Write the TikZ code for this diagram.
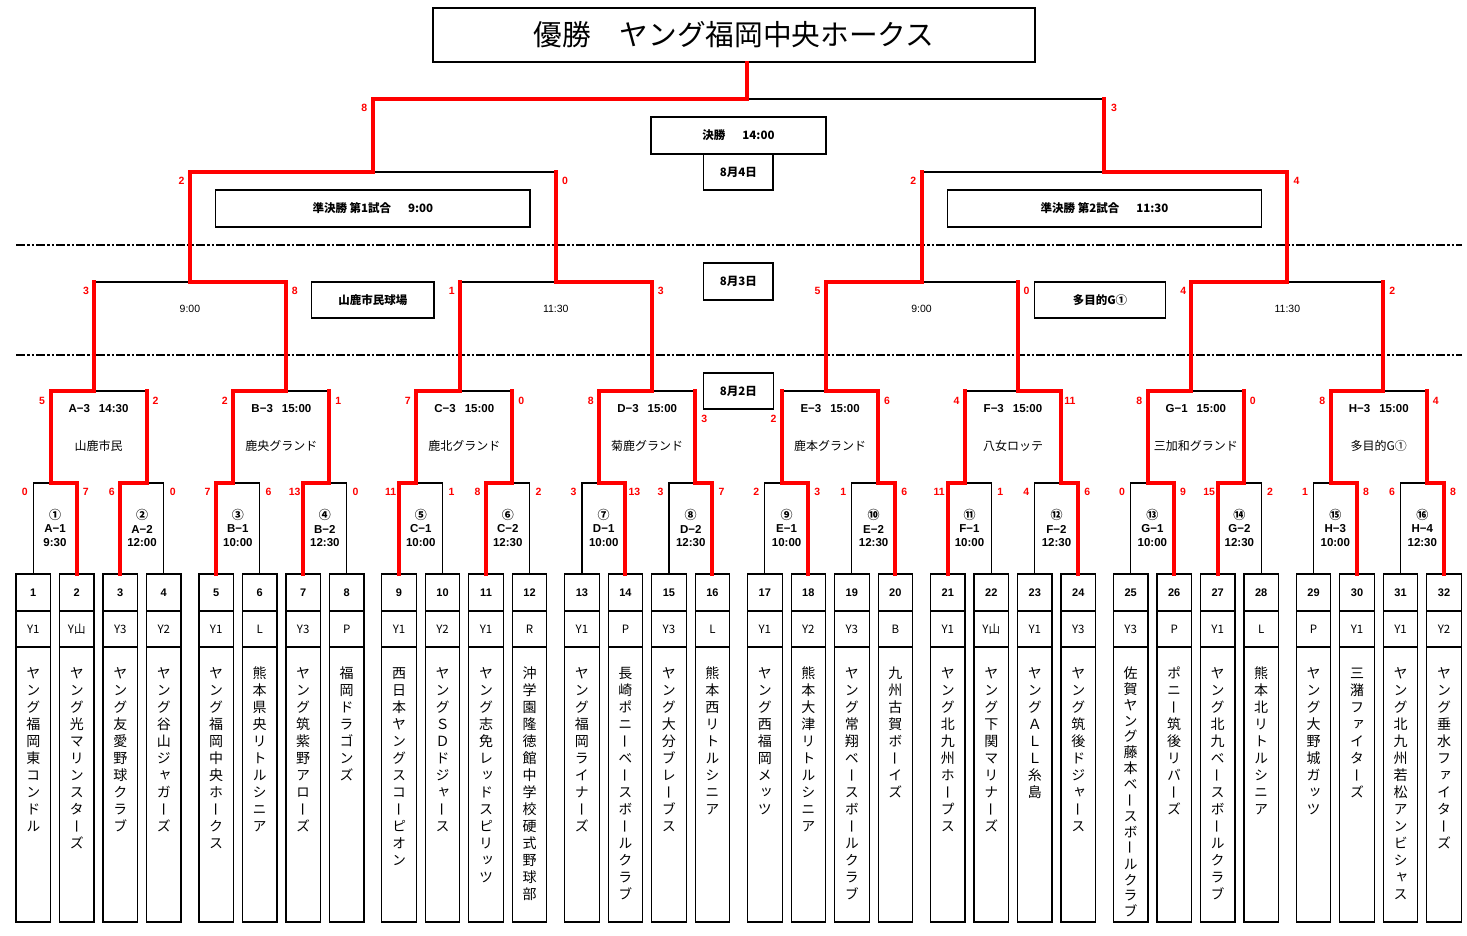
\documentclass[tikz,border=0pt]{standalone}
\usepackage{fontspec}
\setmainfont{Noto Sans CJK JP}
\newfontfamily\jpv[RawFeature=+vert]{Noto Sans CJK JP}
\newfontfamily\lat{Liberation Sans}
\definecolor{rd}{RGB}{255,0,0}
\newcount\vcnt
\def\vp{17}
\def\vx{0}
\def\vchar#1{\ifx ー#1\node[vchr] at (\vx,{673+\vp*\the\vcnt}) {#1};\else\node[vch] at (\vx,{673+\vp*\the\vcnt}) {#1};\fi}
\def\vnameA#1{\ifx\relax#1\else\vchar{#1}\global\advance\vcnt by 1\relax\expandafter\vnameA\fi}
\tikzset{
 blk/.style={line width=1.2pt,draw=black},
 redl/.style={line width=4pt,draw=rd,line cap=rect},
 cell/.style={draw=black,line width=1.2pt},
 score/.style={text=rd,font=\lat\bfseries\fontsize{10.5}{12}\selectfont,inner sep=0pt},
 mlab/.style={font=\lat\bfseries\fontsize{11.5}{13}\selectfont,inner sep=0pt},
 cnum/.style={font=\bfseries\fontsize{12}{13}\selectfont,inner sep=0pt},
 venue/.style={font=\fontsize{12}{13}\selectfont,inner sep=0pt},
 tmlab/.style={font=\lat\fontsize{10.5}{12}\selectfont,inner sep=0pt},
 num/.style={font=\lat\bfseries\fontsize{11}{12}\selectfont,inner sep=0pt},
 code/.style={font=\fontsize{11.5}{12}\selectfont,inner sep=0pt},
 vch/.style={font=\jpv\fontsize{14}{14}\selectfont,inner sep=0pt,anchor=center,text height=12.32pt,text depth=1.68pt},
 vchr/.style={font=\fontsize{14}{14}\selectfont,inner sep=0pt,anchor=center,text height=12.32pt,text depth=1.68pt,rotate=90},
 lbl/.style={draw=black,line width=1.2pt,inner sep=0pt,font=\bfseries\fontsize{11.5}{13}\selectfont},
 dd/.style={line width=1.5pt,dash pattern=on 9pt off 2pt on 2.5pt off 2pt on 2.5pt off 2pt},
}
\begin{document}
\begin{tikzpicture}[x=1pt,y=-1pt]
\useasboundingbox (0,0) rectangle (1467,935);
\fill[white] (0,0) rectangle (1467,935);

% day separators
\draw[dd] (16,245) -- (1462,245);
\draw[dd] (16,355) -- (1462,355);

% label boxes
\node[draw=black,line width=1.2pt,minimum width=602pt,minimum height=54pt,inner sep=0pt,font=\fontsize{28.7}{30}\selectfont] (title) at (734,35) {優勝　ヤング福岡中央ホークス};
\node[lbl,minimum width=175pt,minimum height=37pt] (kessho) at (738.5,135.5) {決勝\hspace{17pt}14:00};
\node[lbl,minimum width=69.4pt,minimum height=36pt] (d4) at (738.3,172) {8月4日};
\node[lbl,minimum width=314.3pt,minimum height=37pt] (semi1) at (372.85,208.5) {準決勝 第1試合\hspace{17pt}9:00};
\node[lbl,minimum width=314.3pt,minimum height=37pt] (semi2) at (1104.5,208.5) {準決勝 第2試合\hspace{17pt}11:30};
\node[lbl,minimum width=69.4pt,minimum height=37pt] (d3) at (738.3,281.5) {8月3日};
\node[lbl,minimum width=122.5pt,minimum height=36pt] (ven1) at (372.8,300) {山鹿市民球場};
\node[lbl,minimum width=130.7pt,minimum height=36pt] (ven2) at (1100,300) {多目的G①};
\node[lbl,minimum width=70pt,minimum height=36pt] (d2) at (738.3,391) {8月2日};

% teams
\foreach \i/\cd/\pit/\nm in {
1/Y1/17/ヤング福岡東コンドル,
2/Y山/17/ヤング光マリンスターズ,
3/Y3/17/ヤング友愛野球クラブ,
4/Y2/17/ヤング谷山ジャガーズ,
5/Y1/17/ヤング福岡中央ホークス,
6/L/17/熊本県央リトルシニア,
7/Y3/17/ヤング筑紫野アローズ,
8/P/17/福岡ドラゴンズ,
9/Y1/17/西日本ヤングスコーピオン,
10/Y2/17/ヤングＳＤドジャース,
11/Y1/17/ヤング志免レッドスピリッツ,
12/R/17/沖学園隆徳館中学校硬式野球部,
13/Y1/17/ヤング福岡ライナーズ,
14/P/17/長崎ポニーベースボールクラブ,
15/Y3/17/ヤング大分ブレーブス,
16/L/17/熊本西リトルシニア,
17/Y1/17/ヤング西福岡メッツ,
18/Y2/17/熊本大津リトルシニア,
19/Y3/17/ヤング常翔ベースボールクラブ,
20/B/17/九州古賀ボーイズ,
21/Y1/17/ヤング北九州ホープス,
22/Y山/17/ヤング下関マリナーズ,
23/Y1/17/ヤングＡＬＬ糸島,
24/Y3/17/ヤング筑後ドジャース,
25/Y3/15.9/佐賀ヤング藤本ベースボールクラブ,
26/P/17/ポニー筑後リバーズ,
27/Y1/17/ヤング北九ベースボールクラブ,
28/L/17/熊本北リトルシニア,
29/P/17/ヤング大野城ガッツ,
30/Y1/17/三潴ファイターズ,
31/Y1/17/ヤング北九州若松アンビシャス,
32/Y2/17/ヤング垂水ファイターズ}{
 \pgfmathsetmacro\g{floor((\i-1)/4)}
 \pgfmathsetmacro\k{mod(\i-1,4)}
 \pgfmathsetmacro\lx{16+\g*182.9+\k*43.5}
 \pgfmathsetmacro\xc{\lx+17.25}
 \draw[cell] (\lx,574) rectangle (\lx+34.5,922);
 \draw[cell] (\lx,611) -- (\lx+34.5,611);
 \draw[cell] (\lx,647) -- (\lx+34.5,647);
 \node[num] (num\i) at (\xc,592.5) {\i};
 \node[code] (code\i) at (\xc,629) {\cd};
 \global\vcnt=0
 \edef\vx{\xc}\edef\vp{\pit}
 \expandafter\vnameA\nm\relax
}

% round 1
\foreach \m/\sa/\sb/\w/\cn/\lab/\tm in {
1/0/7/1/①/A−1/9:30, 2/6/0/0/②/A−2/12:00, 3/7/6/0/③/B−1/10:00, 4/13/0/0/④/B−2/12:30,
5/11/1/0/⑤/C−1/10:00, 6/8/2/0/⑥/C−2/12:30, 7/3/13/1/⑦/D−1/10:00, 8/3/7/1/⑧/D−2/12:30,
9/2/3/1/⑨/E−1/10:00, 10/1/6/1/⑩/E−2/12:30, 11/11/1/0/⑪/F−1/10:00, 12/4/6/1/⑫/F−2/12:30,
13/0/9/1/⑬/G−1/10:00, 14/15/2/0/⑭/G−2/12:30, 15/1/8/1/⑮/H−3/10:00, 16/6/8/1/⑯/H−4/12:30}{
 \pgfmathsetmacro\g{floor((\m-1)/2)}
 \pgfmathsetmacro\p{mod(\m-1,2)}
 \pgfmathsetmacro\xl{33.25+\g*182.9+\p*87}
 \pgfmathsetmacro\xr{\xl+43.5}
 \pgfmathsetmacro\xm{\xl+21.75}
 \pgfmathsetmacro\xn{\xm+(2*\p-1)*4.5}
 \pgfmathsetmacro\xw{\w<0.5 ? \xl : \xr}
 \draw[blk] (\xl,574) -- (\xl,483) -- (\xr,483) -- (\xr,574);
 \draw[redl] (\xw,574) -- (\xw,483) -- (\xn,483);
 \node[score] (sa\m) at (\xl-8.5,492) {\sa};
 \node[score] (sb\m) at (\xr+9,492) {\sb};
 \node[cnum] (cn\m) at (\xm,515) {\cn};
 \node[mlab] (lab\m) at (\xm,529) {\lab};
 \node[mlab] (tm\m) at (\xm,543) {\tm};
}

% round 2
\foreach \g/\sa/\sb/\w/\lab/\tm/\ven/\da/\db in {
0/5/2/0/A−3/14:30/山鹿市民/10/10, 1/2/1/0/B−3/15:00/鹿央グランド/10/10,
2/7/0/0/C−3/15:00/鹿北グランド/10/10, 3/8/3/0/D−3/15:00/菊鹿グランド/10/28,
4/2/6/1/E−3/15:00/鹿本グランド/28/10, 5/4/11/1/F−3/15:00/八女ロッテ/10/10,
6/8/0/0/G−1/15:00/三加和グランド/10/10, 7/8/4/0/H−3/15:00/多目的G①/10/10}{
 \pgfmathsetmacro\xl{50.5+\g*182.9}
 \pgfmathsetmacro\xr{146.5+\g*182.9}
 \pgfmathsetmacro\xm{98.5+\g*182.9}
 \pgfmathsetmacro\p{mod(\g,2)}
 \pgfmathsetmacro\xn{\xm+(2*\p-1)*4.5}
 \pgfmathsetmacro\xw{\w<0.5 ? \xl : \xr}
 \draw[blk] (\xl,483) -- (\xl,391) -- (\xr,391) -- (\xr,483);
 \draw[redl] (\xl,483) -- (\xl,391);
 \draw[redl] (\xr,483) -- (\xr,391);
 \draw[redl] (\xw,391) -- (\xn,391);
 \node[score] (ra\g) at (\xl-8.5,391+\da) {\sa};
 \node[score] (rb\g) at (\xr+9,391+\db) {\sb};
 \node[mlab] (rl\g) at (\xm,409) {\lab\hspace{9pt}\tm};
 \node[venue] (rv\g) at (\xm,446) {\ven};
}

% round 3
\foreach \h/\sa/\sb/\w/\tm in {0/3/8/1/9:00, 1/1/3/1/11:30, 2/5/0/0/9:00, 3/4/2/0/11:30}{
 \pgfmathsetmacro\xl{94+\h*365.8}
 \pgfmathsetmacro\xr{285.9+\h*365.8}
 \pgfmathsetmacro\xm{189.95+\h*365.8}
 \pgfmathsetmacro\xw{\w<0.5 ? \xl : \xr}
 \draw[blk] (\xl,391) -- (\xl,282) -- (\xr,282) -- (\xr,391);
 \draw[redl] (\xl,391) -- (\xl,282);
 \draw[redl] (\xr,391) -- (\xr,282);
 \draw[redl] (\xw,282) -- (\xm,282);
 \node[score] (qa\h) at (\xl-8,291) {\sa};
 \node[score] (qb\h) at (\xr+9,291) {\sb};
 \node[tmlab] (qt\h) at (\xm,309) {\tm};
}

% semifinals
\foreach \s/\sa/\sb/\w in {0/2/0/0, 1/2/4/1}{
 \pgfmathsetmacro\xl{189.95+\s*731.6}
 \pgfmathsetmacro\xr{555.75+\s*731.6}
 \pgfmathsetmacro\xm{372.85+\s*731.6}
 \pgfmathsetmacro\xw{\w<0.5 ? \xl : \xr}
 \draw[blk] (\xl,282) -- (\xl,172) -- (\xr,172) -- (\xr,282);
 \draw[redl] (\xl,282) -- (\xl,172);
 \draw[redl] (\xr,282) -- (\xr,172);
 \draw[redl] (\xw,172) -- (\xm,172);
 \node[score] (pa\s) at (\xl-8.3,181) {\sa};
 \node[score] (pb\s) at (\xr+9.3,181) {\sb};
}

% final
\coordinate (fl) at (372.85,99);
\coordinate (fr) at (1104.45,99);
\coordinate (fc) at (747,99);
\draw[blk] (372.85,172) -- (fl) -- (fr) -- (1104.45,172);
\draw[redl] (372.85,172) -- (fl);
\draw[redl] (1104.45,172) -- (fr);
\draw[redl] (fl) -- (fc) -- (title.south -| fc);
\node[score] (fa) at (364.3,107.5) {8};
\node[score] (fb) at (1114,107.5) {3};
\end{tikzpicture}
\end{document}
